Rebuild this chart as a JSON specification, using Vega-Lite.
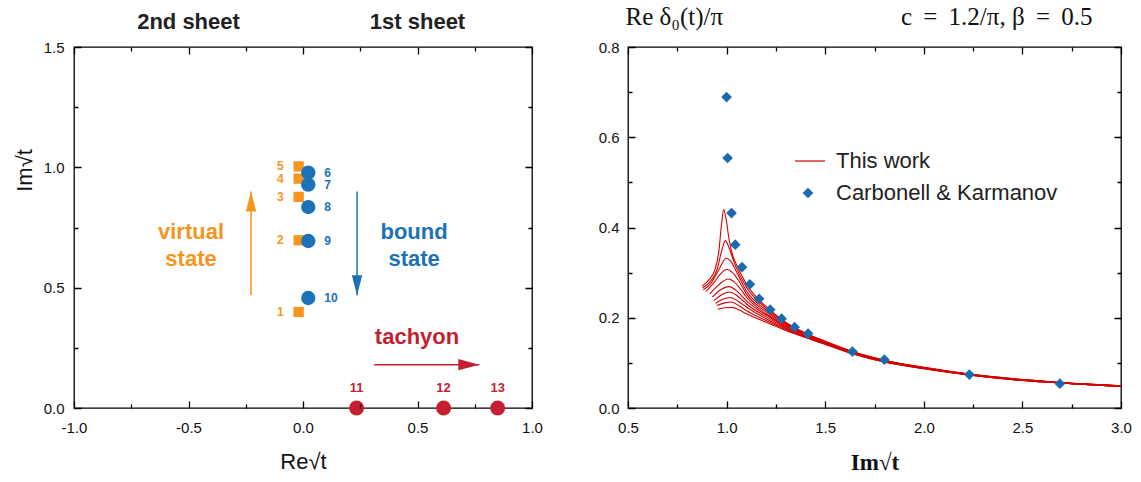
{
"$schema": "https://vega.github.io/schema/vega-lite/v6.json",
"padding": {"left": 12, "top": 3, "right": 0, "bottom": 0},
"autosize": {"type": "pad"},
"bounds": "flush",
"spacing": 96,
"background": "white",
"datasets": {
"poles": [
{"kind":"virtual","n":"1","re":-0.019,"im":0.399},
{"kind":"virtual","n":"2","re":-0.019,"im":0.697},
{"kind":"virtual","n":"3","re":-0.019,"im":0.877},
{"kind":"virtual","n":"4","re":-0.019,"im":0.953},
{"kind":"virtual","n":"5","re":-0.019,"im":1.004},
{"kind":"bound","n":"6","re":0.023,"im":0.978},
{"kind":"bound","n":"7","re":0.023,"im":0.928},
{"kind":"bound","n":"8","re":0.023,"im":0.835},
{"kind":"bound","n":"9","re":0.023,"im":0.694},
{"kind":"bound","n":"10","re":0.023,"im":0.457},
{"kind":"tachyon","n":"11","re":0.234,"im":0},
{"kind":"tachyon","n":"12","re":0.614,"im":0},
{"kind":"tachyon","n":"13","re":0.850,"im":0}
],
"notes": [
{"kind":"virtual","re":-0.489,"im":0.733,"text":["virtual","state"]},
{"kind":"bound","re":0.485,"im":0.733,"text":["bound","state"]},
{"kind":"tachyon","re":0.498,"im":0.295,"text":"tachyon"}
],
"arrows": [
{"kind":"virtual","re":-0.227,"im":0.468,"re2":-0.227,"im2":0.90},
{"kind":"bound","re":0.236,"im":0.90,"re2":0.236,"im2":0.468},
{"kind":"tachyon","re":0.311,"im":0.18,"re2":0.77,"im2":0.18}
],
"sheets": [
{"re":-0.5,"im":1.604,"text":"2nd sheet"},
{"re":0.5,"im":1.604,"text":"1st sheet"}
],
"ck": [
{"x":1.0,"y":0.689},{"x":1.005,"y":0.554},{"x":1.025,"y":0.432},{"x":1.044,"y":0.362},{"x":1.078,"y":0.312},
{"x":1.118,"y":0.274},{"x":1.165,"y":0.242},{"x":1.221,"y":0.218},{"x":1.279,"y":0.198},{"x":1.345,"y":0.179},
{"x":1.413,"y":0.165},{"x":1.638,"y":0.125},{"x":1.80,"y":0.107},{"x":2.231,"y":0.074},{"x":2.69,"y":0.054}
],
"curves": [
{"c":1,"x":0.875,"y":0.270},{"c":1,"x":0.91,"y":0.284},{"c":1,"x":0.94,"y":0.305},{"c":1,"x":0.96,"y":0.345},{"c":1,"x":0.975,"y":0.41},{"c":1,"x":0.985,"y":0.44},{"c":1,"x":0.997,"y":0.42},{"c":1,"x":1.012,"y":0.375},{"c":1,"x":1.03,"y":0.34},{"c":1,"x":1.05,"y":0.318},{"c":1,"x":1.1,"y":0.275},{"c":1,"x":1.2,"y":0.225},{"c":1,"x":1.3,"y":0.190},{"c":1,"x":1.4,"y":0.166},{"c":1,"x":1.5,"y":0.148},{"c":1,"x":1.64,"y":0.125},{"c":1,"x":1.8,"y":0.106},{"c":1,"x":2.0,"y":0.090},{"c":1,"x":2.25,"y":0.074},{"c":1,"x":2.5,"y":0.063},{"c":1,"x":2.75,"y":0.055},{"c":1,"x":3.0,"y":0.049},
{"c":2,"x":0.878,"y":0.266},{"c":2,"x":0.92,"y":0.282},{"c":2,"x":0.95,"y":0.305},{"c":2,"x":0.975,"y":0.348},{"c":2,"x":0.993,"y":0.371},{"c":2,"x":1.01,"y":0.358},{"c":2,"x":1.03,"y":0.333},{"c":2,"x":1.05,"y":0.31},{"c":2,"x":1.1,"y":0.268},{"c":2,"x":1.2,"y":0.221},{"c":2,"x":1.3,"y":0.188},{"c":2,"x":1.4,"y":0.165},{"c":2,"x":1.5,"y":0.147},{"c":2,"x":1.64,"y":0.124},{"c":2,"x":1.8,"y":0.106},{"c":2,"x":2.0,"y":0.090},{"c":2,"x":2.25,"y":0.074},{"c":2,"x":2.5,"y":0.063},{"c":2,"x":2.75,"y":0.055},{"c":2,"x":3.0,"y":0.049},
{"c":3,"x":0.882,"y":0.262},{"c":3,"x":0.92,"y":0.276},{"c":3,"x":0.96,"y":0.306},{"c":3,"x":0.998,"y":0.332},{"c":3,"x":1.02,"y":0.326},{"c":3,"x":1.05,"y":0.302},{"c":3,"x":1.1,"y":0.26},{"c":3,"x":1.2,"y":0.217},{"c":3,"x":1.3,"y":0.186},{"c":3,"x":1.4,"y":0.164},{"c":3,"x":1.5,"y":0.146},{"c":3,"x":1.64,"y":0.124},{"c":3,"x":1.8,"y":0.105},{"c":3,"x":2.0,"y":0.089},{"c":3,"x":2.25,"y":0.074},{"c":3,"x":2.5,"y":0.063},{"c":3,"x":2.75,"y":0.055},{"c":3,"x":3.0,"y":0.049},
{"c":4,"x":0.895,"y":0.258},{"c":4,"x":0.94,"y":0.28},{"c":4,"x":0.97,"y":0.298},{"c":4,"x":1.003,"y":0.307},{"c":4,"x":1.03,"y":0.3},{"c":4,"x":1.06,"y":0.283},{"c":4,"x":1.1,"y":0.253},{"c":4,"x":1.2,"y":0.213},{"c":4,"x":1.3,"y":0.184},{"c":4,"x":1.4,"y":0.163},{"c":4,"x":1.5,"y":0.146},{"c":4,"x":1.64,"y":0.123},{"c":4,"x":1.8,"y":0.105},{"c":4,"x":2.0,"y":0.089},{"c":4,"x":2.25,"y":0.073},{"c":4,"x":2.5,"y":0.062},{"c":4,"x":2.75,"y":0.055},{"c":4,"x":3.0,"y":0.049},
{"c":5,"x":0.915,"y":0.253},{"c":5,"x":0.96,"y":0.273},{"c":5,"x":1.008,"y":0.286},{"c":5,"x":1.04,"y":0.279},{"c":5,"x":1.07,"y":0.264},{"c":5,"x":1.1,"y":0.246},{"c":5,"x":1.2,"y":0.209},{"c":5,"x":1.3,"y":0.182},{"c":5,"x":1.4,"y":0.162},{"c":5,"x":1.5,"y":0.145},{"c":5,"x":1.64,"y":0.123},{"c":5,"x":1.8,"y":0.104},{"c":5,"x":2.0,"y":0.089},{"c":5,"x":2.25,"y":0.073},{"c":5,"x":2.5,"y":0.062},{"c":5,"x":2.75,"y":0.054},{"c":5,"x":3.0,"y":0.048},
{"c":6,"x":0.928,"y":0.246},{"c":6,"x":0.97,"y":0.262},{"c":6,"x":1.012,"y":0.269},{"c":6,"x":1.05,"y":0.26},{"c":6,"x":1.075,"y":0.249},{"c":6,"x":1.1,"y":0.238},{"c":6,"x":1.2,"y":0.206},{"c":6,"x":1.3,"y":0.18},{"c":6,"x":1.4,"y":0.16},{"c":6,"x":1.5,"y":0.144},{"c":6,"x":1.64,"y":0.122},{"c":6,"x":1.8,"y":0.104},{"c":6,"x":2.0,"y":0.088},{"c":6,"x":2.25,"y":0.073},{"c":6,"x":2.5,"y":0.062},{"c":6,"x":2.75,"y":0.054},{"c":6,"x":3.0,"y":0.048},
{"c":7,"x":0.936,"y":0.238},{"c":7,"x":0.975,"y":0.251},{"c":7,"x":1.015,"y":0.257},{"c":7,"x":1.05,"y":0.25},{"c":7,"x":1.075,"y":0.241},{"c":7,"x":1.1,"y":0.231},{"c":7,"x":1.2,"y":0.202},{"c":7,"x":1.3,"y":0.178},{"c":7,"x":1.4,"y":0.159},{"c":7,"x":1.5,"y":0.143},{"c":7,"x":1.64,"y":0.122},{"c":7,"x":1.8,"y":0.103},{"c":7,"x":2.0,"y":0.088},{"c":7,"x":2.25,"y":0.073},{"c":7,"x":2.5,"y":0.062},{"c":7,"x":2.75,"y":0.054},{"c":7,"x":3.0,"y":0.048},
{"c":8,"x":0.944,"y":0.232},{"c":8,"x":0.98,"y":0.241},{"c":8,"x":1.02,"y":0.245},{"c":8,"x":1.06,"y":0.236},{"c":8,"x":1.1,"y":0.224},{"c":8,"x":1.2,"y":0.198},{"c":8,"x":1.3,"y":0.176},{"c":8,"x":1.4,"y":0.158},{"c":8,"x":1.5,"y":0.143},{"c":8,"x":1.64,"y":0.121},{"c":8,"x":1.8,"y":0.103},{"c":8,"x":2.0,"y":0.088},{"c":8,"x":2.25,"y":0.072},{"c":8,"x":2.5,"y":0.061},{"c":8,"x":2.75,"y":0.054},{"c":8,"x":3.0,"y":0.048},
{"c":9,"x":0.95,"y":0.227},{"c":9,"x":0.99,"y":0.233},{"c":9,"x":1.025,"y":0.235},{"c":9,"x":1.065,"y":0.226},{"c":9,"x":1.1,"y":0.216},{"c":9,"x":1.2,"y":0.194},{"c":9,"x":1.3,"y":0.174},{"c":9,"x":1.4,"y":0.157},{"c":9,"x":1.5,"y":0.142},{"c":9,"x":1.64,"y":0.121},{"c":9,"x":1.8,"y":0.102},{"c":9,"x":2.0,"y":0.087},{"c":9,"x":2.25,"y":0.072},{"c":9,"x":2.5,"y":0.061},{"c":9,"x":2.75,"y":0.054},{"c":9,"x":3.0,"y":0.048},
{"c":10,"x":0.955,"y":0.219},{"c":10,"x":0.99,"y":0.222},{"c":10,"x":1.03,"y":0.223},{"c":10,"x":1.065,"y":0.217},{"c":10,"x":1.1,"y":0.209},{"c":10,"x":1.2,"y":0.19},{"c":10,"x":1.3,"y":0.172},{"c":10,"x":1.4,"y":0.156},{"c":10,"x":1.5,"y":0.141},{"c":10,"x":1.64,"y":0.12},{"c":10,"x":1.8,"y":0.102},{"c":10,"x":2.0,"y":0.087},{"c":10,"x":2.25,"y":0.072},{"c":10,"x":2.5,"y":0.061},{"c":10,"x":2.75,"y":0.054},{"c":10,"x":3.0,"y":0.048}
]
},
"resolve": {"scale": {"shape": "independent", "color": "independent", "stroke": "independent"}, "legend": {"shape": "independent"}},
"hconcat": [
{
"width": 458, "height": 361,
"resolve": {"axis": {"x": "independent", "y": "independent"}},
"layer": [
{"mark": {"type": "rule", "color": "#9a9a9a", "strokeDash": [7, 5], "strokeWidth": 1},
 "encoding": {"x": {"datum": 0, "type": "quantitative", "scale": {"domain": [-1, 1], "nice": false, "zero": false}, "axis": null}}},
{"mark": {"type": "rule", "color": "#9a9a9a", "strokeDash": [7, 5], "strokeWidth": 1},
 "encoding": {"y": {"datum": 1, "type": "quantitative", "scale": {"domain": [0, 1.5], "nice": false, "zero": false}, "axis": null}}},
{"data": {"name": "arrows"},
 "mark": {"type": "rule", "strokeWidth": 1.5},
 "encoding": {
  "x": {"field": "re", "type": "quantitative", "scale": {"domain": [-1, 1], "nice": false, "zero": false}, "axis": null},
  "y": {"field": "im", "type": "quantitative", "scale": {"domain": [0, 1.5], "nice": false, "zero": false}, "axis": null},
  "x2": {"field": "re2"}, "y2": {"field": "im2"},
  "color": {"field": "kind", "type": "nominal", "scale": {"domain": ["virtual", "bound", "tachyon"], "range": ["#f7941d", "#1b72b9", "#c41e32"]}, "legend": null}}},
{"data": {"name": "arrows"},
 "mark": {"type": "point", "filled": true, "opacity": 1, "size": 1600, "strokeWidth": 0},
 "encoding": {
  "x": {"field": "re2", "type": "quantitative", "scale": {"domain": [-1, 1], "nice": false, "zero": false}, "axis": null},
  "y": {"field": "im2", "type": "quantitative", "scale": {"domain": [0, 1.5], "nice": false, "zero": false}, "axis": null},
  "shape": {"field": "kind", "type": "nominal", "scale": {"domain": ["virtual", "bound", "tachyon"], "range": ["M0,0L0.26,1L-0.26,1Z", "M0,0L0.26,-1L-0.26,-1Z", "M0,0L-1.05,0.28L-1.05,-0.28Z"]}, "legend": null},
  "color": {"field": "kind", "type": "nominal", "scale": {"domain": ["virtual", "bound", "tachyon"], "range": ["#f7941d", "#1b72b9", "#c41e32"]}, "legend": null}}},
{"data": {"name": "poles"},
 "transform": [{"filter": "datum.kind === 'virtual'"}],
 "mark": {"type": "square", "size": 106, "opacity": 1},
 "encoding": {
  "x": {"field": "re", "type": "quantitative", "scale": {"domain": [-1, 1], "nice": false, "zero": false},
        "axis": {"orient": "bottom", "values": [-1, -0.5, 0, 0.5, 1], "labelExpr": "replace(format(datum.value, '.1f'), '\u2212', '-')", "ticks": false, "tickSize": 0, "labelPadding": 12, "labelFlush": false, "domain": false, "grid": true, "gridColor": "#000000", "gridOpacity": 1, "gridWidth": 1.3, "gridDash": [7, 347, 7, 1000], "title": "Re\u221at", "titleFontSize": 22, "titlePadding": 16, "zindex": 2}},
  "y": {"field": "im", "type": "quantitative", "scale": {"domain": [0, 1.5], "nice": false, "zero": false},
        "axis": {"orient": "left", "values": [0, 0.5, 1, 1.5], "format": ".1f", "ticks": false, "tickSize": 0, "labelPadding": 10, "labelFlush": false, "domain": false, "grid": true, "gridColor": "#000000", "gridOpacity": 1, "gridWidth": 1.3, "gridDash": [7, 444, 7, 1000], "title": "Im\u221at", "titleFontSize": 22, "titleX": -50, "titleY": 123, "titleBaseline": "middle", "zindex": 2}},
  "color": {"field": "kind", "type": "nominal", "scale": {"domain": ["virtual", "bound", "tachyon"], "range": ["#f7941d", "#1b72b9", "#c41e32"]}, "legend": null}}},
{"data": {"name": "poles"},
 "transform": [{"filter": "datum.kind === 'bound'"}],
 "mark": {"type": "circle", "size": 205, "opacity": 1},
 "encoding": {
  "x": {"field": "re", "type": "quantitative", "scale": {"domain": [-1, 1], "nice": false, "zero": false},
        "axis": {"orient": "top", "values": [-0.75, -0.25, 0.25, 0.75], "ticks": false, "tickSize": 0, "labels": false, "domain": false, "grid": true, "gridColor": "#000000", "gridOpacity": 1, "gridWidth": 1.3, "gridDash": [4, 353, 4, 1000], "title": null, "zindex": 2}},
  "y": {"field": "im", "type": "quantitative", "scale": {"domain": [0, 1.5], "nice": false, "zero": false},
        "axis": {"orient": "right", "values": [0.25, 0.75, 1.25], "ticks": false, "tickSize": 0, "labels": false, "domain": false, "grid": true, "gridColor": "#000000", "gridOpacity": 1, "gridWidth": 1.3, "gridDash": [4, 450, 4, 1000], "title": null, "zindex": 2}},
  "color": {"field": "kind", "type": "nominal", "scale": {"domain": ["virtual", "bound", "tachyon"], "range": ["#f7941d", "#1b72b9", "#c41e32"]}, "legend": null}}},
{"data": {"name": "poles"},
 "transform": [{"filter": "datum.kind === 'tachyon'"}],
 "mark": {"type": "circle", "size": 225, "opacity": 1},
 "encoding": {
  "x": {"field": "re", "type": "quantitative", "scale": {"domain": [-1, 1], "nice": false, "zero": false}, "axis": null},
  "y": {"field": "im", "type": "quantitative", "scale": {"domain": [0, 1.5], "nice": false, "zero": false}, "axis": null},
  "color": {"field": "kind", "type": "nominal", "scale": {"domain": ["virtual", "bound", "tachyon"], "range": ["#f7941d", "#1b72b9", "#c41e32"]}, "legend": null}}},
{"data": {"name": "poles"},
 "transform": [{"filter": "datum.kind === 'virtual'"}],
 "mark": {"type": "text", "align": "right", "baseline": "middle", "dx": -15, "font": "Liberation Sans", "fontWeight": "bold", "fontSize": 12},
 "encoding": {
  "x": {"field": "re", "type": "quantitative", "scale": {"domain": [-1, 1], "nice": false, "zero": false}, "axis": null},
  "y": {"field": "im", "type": "quantitative", "scale": {"domain": [0, 1.5], "nice": false, "zero": false}, "axis": null},
  "text": {"field": "n", "type": "nominal"},
  "color": {"field": "kind", "type": "nominal", "scale": {"domain": ["virtual", "bound", "tachyon"], "range": ["#f7941d", "#1b72b9", "#c41e32"]}, "legend": null}}},
{"data": {"name": "poles"},
 "transform": [{"filter": "datum.kind === 'bound'"}],
 "mark": {"type": "text", "align": "left", "baseline": "middle", "dx": 16, "font": "Liberation Sans", "fontWeight": "bold", "fontSize": 12},
 "encoding": {
  "x": {"field": "re", "type": "quantitative", "scale": {"domain": [-1, 1], "nice": false, "zero": false}, "axis": null},
  "y": {"field": "im", "type": "quantitative", "scale": {"domain": [0, 1.5], "nice": false, "zero": false}, "axis": null},
  "text": {"field": "n", "type": "nominal"},
  "color": {"field": "kind", "type": "nominal", "scale": {"domain": ["virtual", "bound", "tachyon"], "range": ["#f7941d", "#1b72b9", "#c41e32"]}, "legend": null}}},
{"data": {"name": "poles"},
 "transform": [{"filter": "datum.kind === 'tachyon'"}],
 "mark": {"type": "text", "align": "center", "baseline": "middle", "dy": -20, "font": "Liberation Sans", "fontWeight": "bold", "fontSize": 13},
 "encoding": {
  "x": {"field": "re", "type": "quantitative", "scale": {"domain": [-1, 1], "nice": false, "zero": false}, "axis": null},
  "y": {"field": "im", "type": "quantitative", "scale": {"domain": [0, 1.5], "nice": false, "zero": false}, "axis": null},
  "text": {"field": "n", "type": "nominal"},
  "color": {"field": "kind", "type": "nominal", "scale": {"domain": ["virtual", "bound", "tachyon"], "range": ["#f7941d", "#1b72b9", "#c41e32"]}, "legend": null}}},
{"data": {"name": "notes"},
 "mark": {"type": "text", "align": "center", "baseline": "middle", "font": "Liberation Sans", "fontWeight": "bold", "fontSize": 22, "lineHeight": 27},
 "encoding": {
  "x": {"field": "re", "type": "quantitative", "scale": {"domain": [-1, 1], "nice": false, "zero": false}, "axis": null},
  "y": {"field": "im", "type": "quantitative", "scale": {"domain": [0, 1.5], "nice": false, "zero": false}, "axis": null},
  "text": {"field": "text", "type": "nominal"},
  "color": {"field": "kind", "type": "nominal", "scale": {"domain": ["virtual", "bound", "tachyon"], "range": ["#f7941d", "#1b72b9", "#c41e32"]}, "legend": null}}},
{"data": {"name": "sheets"},
 "mark": {"type": "text", "align": "center", "baseline": "middle", "font": "Liberation Sans", "fontWeight": "bold", "fontSize": 22, "color": "#222"},
 "encoding": {
  "x": {"field": "re", "type": "quantitative", "scale": {"domain": [-1, 1], "nice": false, "zero": false}, "axis": null},
  "y": {"field": "im", "type": "quantitative", "scale": {"domain": [0, 1.5], "nice": false, "zero": false}, "axis": null},
  "text": {"field": "text", "type": "nominal"}}}
]
},
{
"width": 493, "height": 361,
"resolve": {"axis": {"x": "independent", "y": "independent"}},
"layer": [
{"data": {"name": "curves"},
 "mark": {"type": "line", "strokeWidth": 1.1, "interpolate": "monotone"},
 "encoding": {
  "x": {"field": "x", "type": "quantitative", "scale": {"domain": [0.5, 3], "nice": false, "zero": false},
        "axis": {"orient": "bottom", "values": [0.5, 1, 1.5, 2, 2.5, 3], "format": ".1f", "ticks": false, "tickSize": 0, "labelPadding": 12, "labelFlush": false, "domain": false, "grid": true, "gridColor": "#000000", "gridOpacity": 1, "gridWidth": 1.3, "gridDash": [7, 347, 7, 1000], "title": "Im\u221at", "titleFont": "Liberation Serif", "titleFontWeight": "bold", "titleFontSize": 23, "titlePadding": 16, "zindex": 2}},
  "y": {"field": "y", "type": "quantitative", "scale": {"domain": [0, 0.8], "nice": false, "zero": false},
        "axis": {"orient": "left", "values": [0, 0.2, 0.4, 0.6, 0.8], "format": ".1f", "ticks": false, "tickSize": 0, "labelPadding": 9, "labelFlush": false, "domain": false, "grid": true, "gridColor": "#000000", "gridOpacity": 1, "gridWidth": 1.3, "gridDash": [7, 479, 7, 1000], "title": "Re \u03b4\u2080(t)/\u03c0", "titleAngle": 0, "titleAlign": "left", "titleBaseline": "middle", "titleX": -3, "titleY": -31, "titleFont": "Liberation Serif", "titleFontSize": 25, "zindex": 2}},
  "detail": {"field": "c", "type": "nominal"},
  "stroke": {"datum": "This work", "type": "nominal", "scale": {"domain": ["This work"], "range": ["#d40000"]},
             "legend": {"orient": "none", "legendX": 166, "legendY": 98, "title": null, "symbolType": "stroke", "symbolSize": 900, "symbolStrokeWidth": 1.2, "labelOffset": 10}}}},
{"data": {"name": "ck"},
 "mark": {"type": "point", "filled": true, "opacity": 1, "size": 115, "color": "#1a6aad"},
 "encoding": {
  "x": {"field": "x", "type": "quantitative", "scale": {"domain": [0.5, 3], "nice": false, "zero": false},
        "axis": {"orient": "top", "values": [0.75, 1.25, 1.75, 2.25, 2.75], "ticks": false, "tickSize": 0, "labels": false, "domain": false, "grid": true, "gridColor": "#000000", "gridOpacity": 1, "gridWidth": 1.3, "gridDash": [4, 353, 4, 1000], "title": null, "zindex": 2}},
  "y": {"field": "y", "type": "quantitative", "scale": {"domain": [0, 0.8], "nice": false, "zero": false},
        "axis": {"orient": "right", "values": [0.1, 0.3, 0.5, 0.7], "ticks": false, "tickSize": 0, "labels": false, "domain": false, "grid": true, "gridColor": "#000000", "gridOpacity": 1, "gridWidth": 1.3, "gridDash": [4, 485, 4, 1000], "title": "c \u2009= \u20091.2/\u03c0, \u03b2 \u2009= \u20090.5", "titleAngle": 0, "titleAlign": "right", "titleBaseline": "middle", "titleX": -29, "titleY": -31, "titleFont": "Liberation Serif", "titleFontSize": 25, "zindex": 2}},
  "shape": {"datum": "Carbonell & Karmanov", "type": "nominal", "scale": {"domain": ["Carbonell & Karmanov"], "range": ["diamond"]},
            "legend": {"orient": "none", "legendX": 169, "legendY": 135, "title": null, "symbolSize": 115, "symbolFillColor": "#1a6aad", "symbolStrokeColor": "#1a6aad", "symbolStrokeWidth": 0, "labelOffset": 17}}}}
]
}
],
"config": {
 "view": {"stroke": "#000", "strokeWidth": 1.3},
 "axis": {"domainColor": "#000", "domainWidth": 1.2, "labelColor": "#111", "labelFont": "Liberation Sans", "labelFontSize": 15, "titleFont": "Liberation Sans", "titleFontWeight": "normal", "titleColor": "#111"},
 "legend": {"labelFont": "Liberation Sans", "labelFontSize": 22, "labelColor": "#222", "labelLimit": 0, "padding": 0, "rowPadding": 0}
}
}
